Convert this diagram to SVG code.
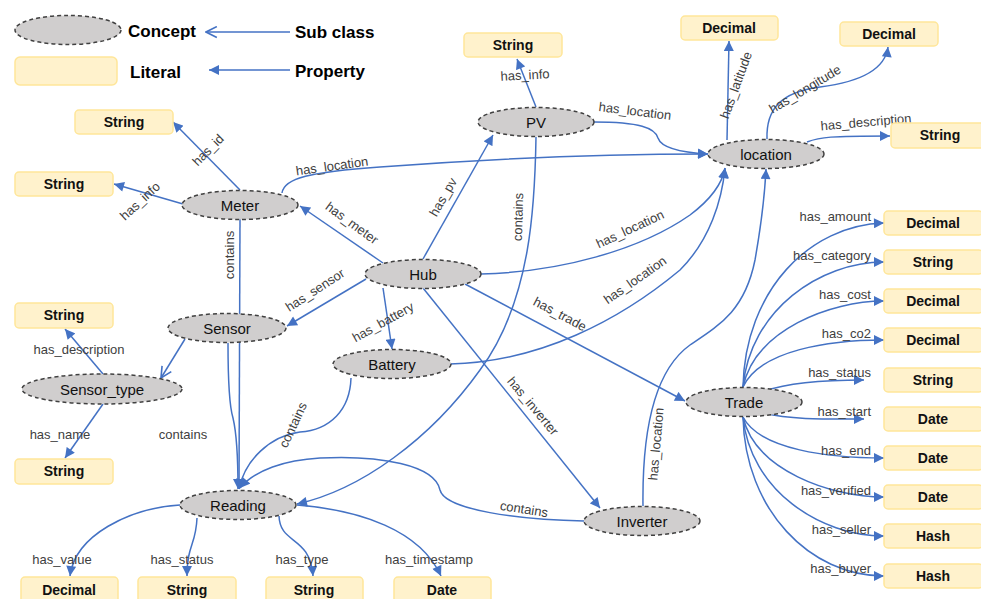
<svg xmlns="http://www.w3.org/2000/svg" width="981" height="599" viewBox="0 0 981 599">
<defs>
<style>
.c ellipse{fill:#D0CECE;stroke:#404040;stroke-width:1.5;stroke-dasharray:4 3}
.l rect{fill:#FFF2CC;stroke:#FFE699;stroke-width:1.5}
.nt{font-family:"Liberation Sans",Arial,sans-serif;font-size:15px;fill:#111;text-anchor:middle;dominant-baseline:central}
.lt{font-family:"Liberation Sans",Arial,sans-serif;font-size:14px;font-weight:bold;fill:#111;text-anchor:middle;dominant-baseline:central}
.lg{font-family:"Liberation Sans",Arial,sans-serif;font-size:17px;font-weight:bold;fill:#000;dominant-baseline:central}
.e{fill:none;stroke:#4472C4;stroke-width:1.5;marker-end:url(#arr)}
.s{fill:none;stroke:#4472C4;stroke-width:1.5;marker-end:url(#open)}
.n{fill:none;stroke:#4472C4;stroke-width:1.5}
.el{font-family:"Liberation Sans",Arial,sans-serif;font-size:13px;fill:#404040;text-anchor:middle;dominant-baseline:central}
.er{font-family:"Liberation Sans",Arial,sans-serif;font-size:13px;fill:#404040;text-anchor:end;dominant-baseline:central}
</style>
<marker id="arr" viewBox="0 0 10 10" refX="10" refY="5" markerWidth="11" markerHeight="10" markerUnits="userSpaceOnUse" orient="auto">
<path d="M0,0 L10,5 L0,10 z" fill="#4472C4"/>
</marker>
<marker id="open" viewBox="0 0 12 12" refX="11" refY="6" markerWidth="13" markerHeight="13" markerUnits="userSpaceOnUse" orient="auto">
<path d="M1,1 L11,6 L1,11" fill="none" stroke="#4472C4" stroke-width="1.5"/>
</marker>
</defs>

<g id="legend">
<g class="c"><ellipse cx="68" cy="30" rx="53" ry="14.5"/></g>
<text class="lg" x="128" y="31">Concept</text>
<path class="s" d="M290,32 L206,32"/>
<text class="lg" x="295" y="32">Sub class</text>
<g class="l"><rect x="15" y="57" width="102" height="28" rx="5"/></g>
<text class="lg" x="130" y="72">Literal</text>
<path class="e" d="M290,70 L209,70"/>
<text class="lg" x="295" y="71">Property</text>
</g>

<g id="connectors">
<!-- Meter -->
<path class="e" d="M240,190 L173,122"/>
<text class="el" transform="translate(208,150) rotate(-45)">has_id</text>
<path class="e" d="M183,204 L114,184"/>
<text class="el" transform="translate(140,201) rotate(-43)">has_info</text>
<path class="e" d="M282,193 C284,178 310,172 380,167 C500,158 620,154 708,154"/>
<text class="el" transform="translate(332,166) rotate(-8)">has_location</text>
<path class="e" d="M240,219 L239,489"/>
<text class="el" transform="translate(229,255) rotate(-90)">contains</text>
<!-- Sensor -->
<path class="e" d="M228,343 C228,380 229,405 233,418 C237,435 238,460 238,489"/>
<text class="el" x="183" y="434">contains</text>
<path class="s" d="M185,339 L161,378"/>
<!-- Sensor_type -->
<path class="e" d="M103,374 L65,329"/>
<text class="el" x="79" y="349">has_description</text>
<path class="e" d="M103,404 L65,458"/>
<text class="el" x="60" y="434">has_name</text>
<!-- Hub -->
<path class="e" d="M383,263 L300,206"/>
<text class="el" transform="translate(352,223) rotate(36)">has_meter</text>
<path class="e" d="M366,279 L287,326"/>
<text class="el" transform="translate(315,290) rotate(-33)">has_sensor</text>
<path class="e" d="M423,259 L493,135"/>
<text class="el" transform="translate(443,197) rotate(-60)">has_pv</text>
<path class="e" d="M383,288 L392,349"/>
<text class="el" transform="translate(383,322) rotate(-29)">has_battery</text>
<path class="e" d="M423,288 L600,508"/>
<text class="el" transform="translate(533,406) rotate(50)">has_inverter</text>
<path class="e" d="M465,284 L685,401"/>
<text class="el" transform="translate(560,314) rotate(28)">has_trade</text>
<path class="e" d="M481,274 C560,272 640,250 690,215 C710,200 722,185 725,168"/>
<text class="el" transform="translate(630,229) rotate(-25)">has_location</text>
<!-- Battery -->
<path class="e" d="M450,364 C540,362 620,320 680,270 C710,240 722,200 725,168"/>
<text class="el" transform="translate(635,280) rotate(-35)">has_location</text>
<path class="e" d="M351,378 C350,410 330,430 300,432 C270,436 245,460 239,489"/>
<text class="el" transform="translate(293,425) rotate(-65)">contains</text>
<!-- PV -->
<path class="e" d="M536,137 C535,200 532,300 480,370 C430,440 360,490 297,504"/>
<text class="el" transform="translate(518,217) rotate(-88)">contains</text>
<path class="e" d="M536,107 L517,59"/>
<text class="el" transform="translate(525,75) rotate(-3)">has_info</text>
<path class="e" d="M594,122 C640,122 655,128 658,138 C662,150 690,153 708,154"/>
<text class="el" transform="translate(635,111) rotate(7)">has_location</text>
<!-- Inverter -->
<path class="e" d="M584,521 C520,520 445,510 440,490 C435,465 380,455 320,458 C285,460 255,470 240,488"/>
<text class="el" transform="translate(524,509) rotate(9)">contains</text>
<path class="e" d="M643,506 C642,430 655,370 690,345 C720,325 745,310 755,260 C762,220 765,190 766,169"/>
<text class="el" transform="translate(656,444) rotate(-85)">has_location</text>
<!-- location -->
<path class="e" d="M727,140 L729,41"/>
<text class="el" transform="translate(736,85) rotate(-70)">has_latitude</text>
<path class="e" d="M767,139 C766,110 780,92 820,87 C860,82 885,70 888,47"/>
<text class="el" transform="translate(805,89) rotate(-31)">has_longitude</text>
<path class="e" d="M807,142 C820,137 830,136 890,136"/>
<text class="el" transform="translate(866,122) rotate(-5)">has_description</text>
<!-- Trade -->
<path class="e" d="M743,387 C745,290 810,225 884,223"/>
<text class="er" x="871" y="216">has_amount</text>
<path class="e" d="M743,387 C750,310 820,262 884,262"/>
<text class="er" x="871" y="255">has_category</text>
<path class="e" d="M743,387 C755,330 830,301 884,301"/>
<text class="er" x="871" y="294">has_cost</text>
<path class="e" d="M743,387 C760,350 830,340 884,340"/>
<text class="er" x="871" y="333">has_co2</text>
<path class="e" d="M765,391 C790,382 830,380 864,380"/>
<text class="er" x="871" y="372">has_status</text>
<path class="e" d="M765,413 C790,420 830,419 864,419"/>
<text class="er" x="871" y="411">has_start</text>
<path class="e" d="M743,417 C760,450 830,458 884,458"/>
<text class="er" x="871" y="450">has_end</text>
<path class="e" d="M743,417 C755,470 830,497 884,497"/>
<text class="er" x="871" y="490">has_verified</text>
<path class="e" d="M743,417 C750,490 820,536 884,536"/>
<text class="er" x="871" y="529">has_seller</text>
<path class="e" d="M743,417 C745,510 810,576 884,576"/>
<text class="er" x="871" y="568">has_buyer</text>
<!-- Reading -->
<path class="e" d="M180,505 C130,508 75,535 70,576"/>
<text class="el" x="62" y="559">has_value</text>
<path class="e" d="M197,518 C196,545 187,545 187,576"/>
<text class="el" x="182" y="559">has_status</text>
<path class="e" d="M279,516 C280,545 310,535 313,576"/>
<text class="el" x="302" y="559">has_type</text>
<path class="e" d="M297,505 C360,510 420,530 441,576"/>
<text class="el" x="429" y="559">has_timestamp</text>
</g>

<g id="concepts" class="c">
<g id="meter"><ellipse cx="240" cy="205" rx="58" ry="14.5"/><text class="nt" x="240" y="205">Meter</text></g>
<g id="hub"><ellipse cx="423" cy="274" rx="58" ry="14.5"/><text class="nt" x="423" y="274">Hub</text></g>
<g id="sensor"><ellipse cx="227" cy="328" rx="59" ry="14.5"/><text class="nt" x="227" y="328">Sensor</text></g>
<g id="sensor_type"><ellipse cx="102" cy="389" rx="80" ry="15"/><text class="nt" x="102" y="389">Sensor_type</text></g>
<g id="battery"><ellipse cx="392" cy="364" rx="59" ry="14.5"/><text class="nt" x="392" y="364">Battery</text></g>
<g id="pv"><ellipse cx="536" cy="122" rx="58" ry="14.5"/><text class="nt" x="536" y="122">PV</text></g>
<g id="location"><ellipse cx="766" cy="154" rx="58" ry="14.5"/><text class="nt" x="766" y="154">location</text></g>
<g id="trade"><ellipse cx="744" cy="402" rx="58" ry="14.5"/><text class="nt" x="744" y="402">Trade</text></g>
<g id="reading"><ellipse cx="238" cy="505" rx="58" ry="14.5"/><text class="nt" x="238" y="505">Reading</text></g>
<g id="inverter"><ellipse cx="642" cy="521" rx="58" ry="14.5"/><text class="nt" x="642" y="521">Inverter</text></g>
</g>

<g id="literals" class="l">
<g id="lit_meter_id"><rect x="75" y="110" width="98" height="24" rx="4"/><text class="lt" x="124" y="122">String</text></g>
<g id="lit_meter_info"><rect x="15" y="172" width="98" height="24" rx="4"/><text class="lt" x="64" y="184">String</text></g>
<g id="lit_pv_info"><rect x="464" y="33" width="98" height="24" rx="4"/><text class="lt" x="513" y="45">String</text></g>
<g id="lit_lat"><rect x="681" y="16" width="97" height="24" rx="4"/><text class="lt" x="729" y="28">Decimal</text></g>
<g id="lit_long"><rect x="840" y="22" width="98" height="24" rx="4"/><text class="lt" x="889" y="34">Decimal</text></g>
<g id="lit_loc_desc"><rect x="891" y="123" width="98" height="25" rx="4"/><text class="lt" x="940" y="135">String</text></g>
<g id="lit_st_desc"><rect x="15" y="303" width="98" height="25" rx="4"/><text class="lt" x="64" y="315">String</text></g>
<g id="lit_st_name"><rect x="15" y="459" width="98" height="25" rx="4"/><text class="lt" x="64" y="471">String</text></g>
<g id="lit_value"><rect x="21" y="577" width="97" height="26" rx="4"/><text class="lt" x="69" y="590">Decimal</text></g>
<g id="lit_r_status"><rect x="138" y="577" width="98" height="26" rx="4"/><text class="lt" x="187" y="590">String</text></g>
<g id="lit_r_type"><rect x="266" y="577" width="97" height="26" rx="4"/><text class="lt" x="314" y="590">String</text></g>
<g id="lit_r_ts"><rect x="394" y="577" width="97" height="26" rx="4"/><text class="lt" x="442" y="590">Date</text></g>
<g id="lit_amount"><rect x="884" y="211" width="99" height="24" rx="4"/><text class="lt" x="933" y="223">Decimal</text></g>
<g id="lit_category"><rect x="884" y="250" width="99" height="24" rx="4"/><text class="lt" x="933" y="262">String</text></g>
<g id="lit_cost"><rect x="884" y="289" width="99" height="24" rx="4"/><text class="lt" x="933" y="301">Decimal</text></g>
<g id="lit_co2"><rect x="884" y="328" width="99" height="24" rx="4"/><text class="lt" x="933" y="340">Decimal</text></g>
<g id="lit_status"><rect x="884" y="368" width="99" height="24" rx="4"/><text class="lt" x="933" y="380">String</text></g>
<g id="lit_start"><rect x="884" y="407" width="99" height="24" rx="4"/><text class="lt" x="933" y="419">Date</text></g>
<g id="lit_end"><rect x="884" y="446" width="99" height="24" rx="4"/><text class="lt" x="933" y="458">Date</text></g>
<g id="lit_verified"><rect x="884" y="485" width="99" height="24" rx="4"/><text class="lt" x="933" y="497">Date</text></g>
<g id="lit_seller"><rect x="884" y="524" width="99" height="24" rx="4"/><text class="lt" x="933" y="536">Hash</text></g>
<g id="lit_buyer"><rect x="884" y="564" width="99" height="24" rx="4"/><text class="lt" x="933" y="576">Hash</text></g>
</g>
</svg>
